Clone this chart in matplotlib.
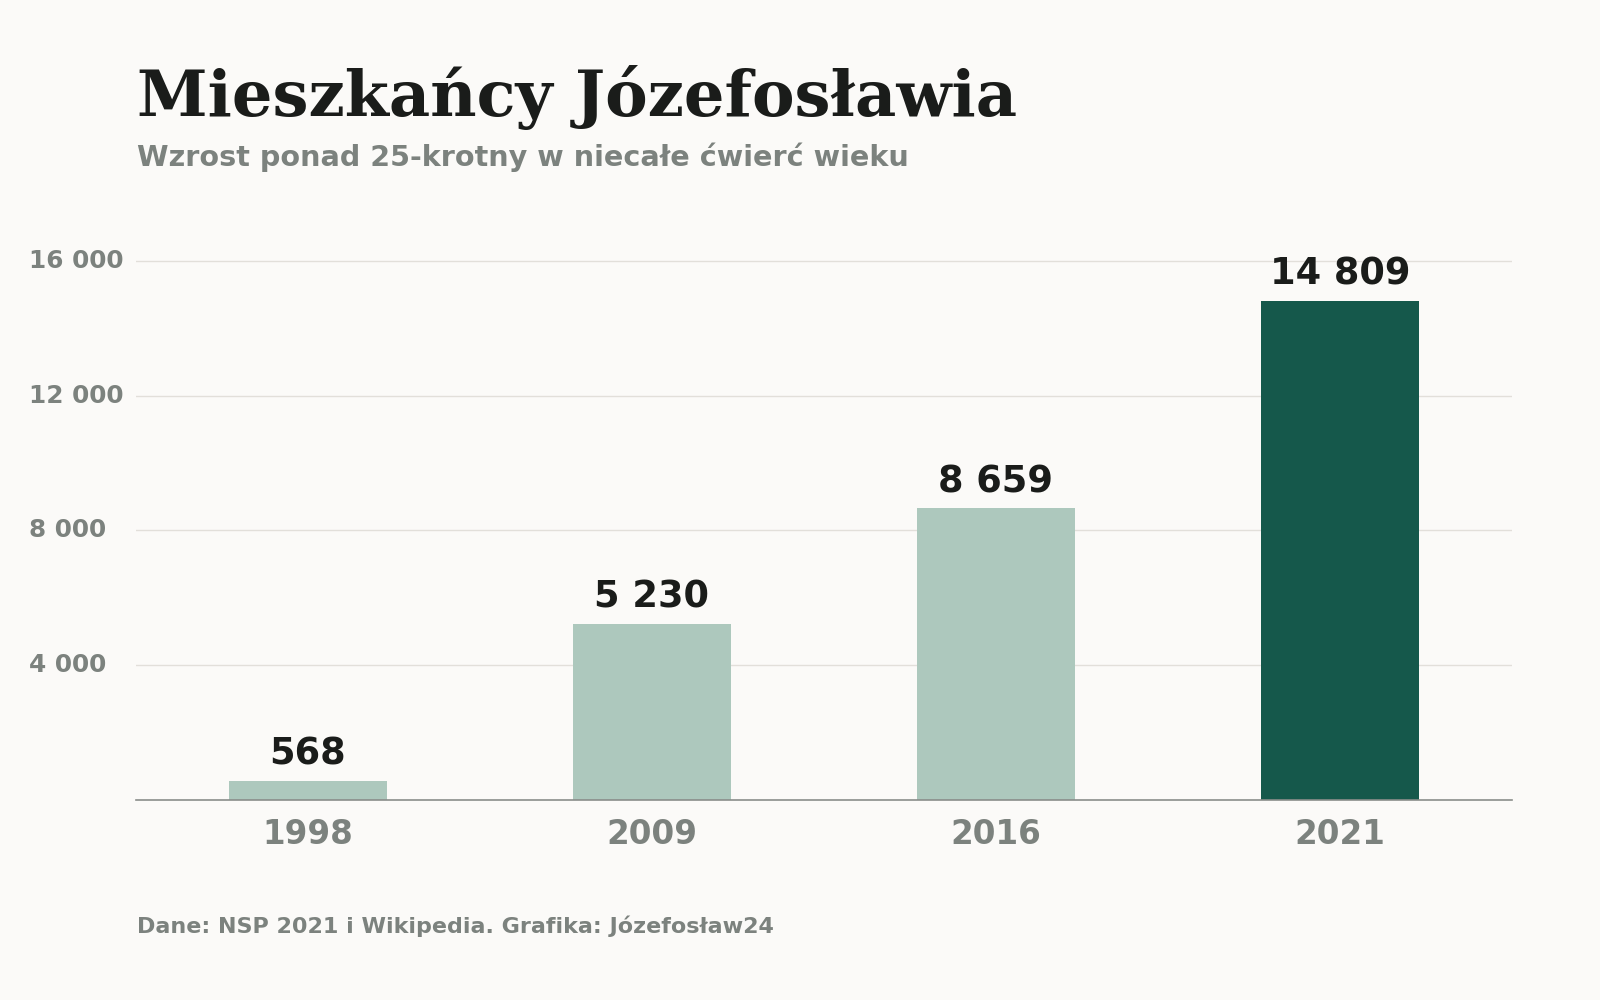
import matplotlib
matplotlib.use("Agg")
import matplotlib.pyplot as plt

# data
years = ["1998", "2009", "2016", "2021"]
residents = [568, 5230, 8659, 14809]
y_ticks = [4000, 8000, 12000, 16000]

BG = "#fbfaf8"
LIGHT = "#adc8bd"
DARK = "#15584b"
INK = "#1a1c1a"
GREY = "#7c827e"


def pl_fmt(v):
    # polish thousands separator (space)
    return f"{v:,}".replace(",", " ")


plt.rcParams["font.family"] = ["DejaVu Sans"]

fig = plt.figure(figsize=(16, 10), dpi=100)
fig.patch.set_facecolor(BG)
ax = fig.add_axes([0.085, 0.2, 0.86, 0.573])
ax.set_facecolor(BG)

colors = [LIGHT] * (len(years) - 1) + [DARK]
xs = list(range(len(years)))
ax.bar(xs, residents, width=0.462, color=colors, zorder=2)

for x, v in zip(xs, residents):
    ax.annotate(pl_fmt(v), (x, v), xytext=(0, 11.5), textcoords="offset points",
                ha="center", va="baseline", fontsize=26.5, fontweight="bold", color=INK)

ax.set_xlim(-0.5, 3.5)
ax.set_ylim(0, 17000)

ax.set_xticks(xs, years)
ax.tick_params(axis="x", length=0, pad=13, labelsize=23.5, labelcolor=GREY)
for lbl in ax.get_xticklabels():
    lbl.set_fontweight("bold")

ax.set_yticks(y_ticks, [pl_fmt(t) for t in y_ticks])
ax.tick_params(axis="y", length=0, pad=77, labelsize=17.8, labelcolor=GREY)
for lbl in ax.get_yticklabels():
    lbl.set_fontweight("bold")
    lbl.set_horizontalalignment("left")
    lbl.set_verticalalignment("center")

ax.yaxis.grid(True, color="#e2dfda", linewidth=1, zorder=0)
ax.set_axisbelow(True)
for s in ["top", "right", "left"]:
    ax.spines[s].set_visible(False)
ax.spines["bottom"].set_color("#8a8d8a")
ax.spines["bottom"].set_linewidth(1.2)
ax.spines["bottom"].set_zorder(3)

fig.text(0.0856, 1 - 116 / 1000, "Mieszkańcy Józefosławia", family="DejaVu Serif",
         fontweight="bold", fontsize=46, color=INK, va="baseline", ha="left")
fig.text(0.0856, 1 - 165.5 / 1000, "Wzrost ponad 25-krotny w niecałe ćwierć wieku",
         fontweight="bold", fontsize=20.6, color=GREY, va="baseline", ha="left")
fig.text(0.0856, 1 - 933 / 1000, "Dane: NSP 2021 i Wikipedia. Grafika: Józefosław24",
         fontweight="bold", fontsize=16, color=GREY, va="baseline", ha="left")

fig.savefig("out.png", dpi=100, facecolor=BG)
